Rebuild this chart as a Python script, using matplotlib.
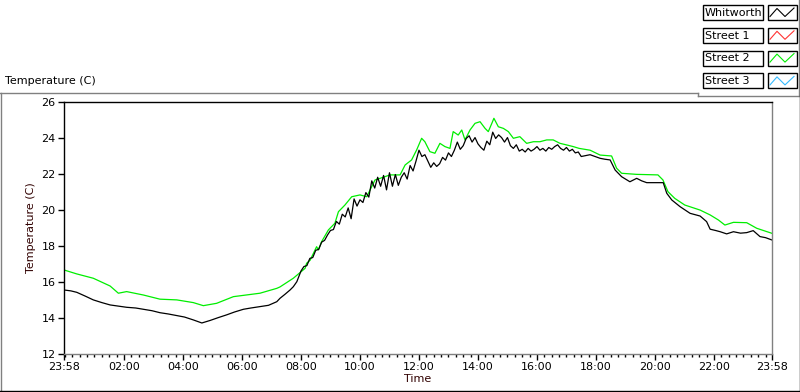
import matplotlib
matplotlib.use("Agg")
import matplotlib.pyplot as plt
from matplotlib.patches import Rectangle

# Series data: hour of day (start at 23:58 previous day) and temperature (C)
WHIT_HOURS = [-0.033, 0.20, 0.40, 0.70, 0.96, 1.25, 1.53, 1.80, 2.09, 2.40, 2.66, 2.95, 3.22, 3.50,
              3.79, 4.05, 4.35, 4.64, 4.92, 5.20, 5.48, 5.75, 6.05, 6.30, 6.61, 6.90, 7.18, 7.29,
              7.45, 7.63, 7.74, 7.86,
              8.0, 8.1, 8.2, 8.3, 8.4, 8.5, 8.6, 8.7, 8.8, 8.9,
              9.0, 9.1, 9.2, 9.3, 9.4, 9.5, 9.6, 9.7, 9.8, 9.9,
              10.0, 10.1, 10.2, 10.3, 10.4, 10.5, 10.6, 10.7, 10.8, 10.9,
              11.0, 11.1, 11.2, 11.3, 11.4, 11.5, 11.6, 11.7, 11.8, 11.9,
              12.0, 12.1, 12.2, 12.3, 12.4, 12.5, 12.6, 12.7, 12.8, 12.9,
              13.0, 13.1, 13.2, 13.3, 13.4, 13.5, 13.6, 13.7, 13.8, 13.9,
              14.0, 14.1, 14.2, 14.3, 14.4, 14.5, 14.6, 14.7, 14.8, 14.9,
              15.0, 15.1, 15.2, 15.3, 15.4, 15.5, 15.6, 15.7, 15.8, 15.9,
              16.0, 16.1, 16.2, 16.3, 16.4, 16.5, 16.6, 16.7, 16.8, 16.9,
              17.0, 17.1, 17.2, 17.3, 17.4, 17.5,
              17.80, 18.14, 18.30, 18.48, 18.65, 18.87, 19.15, 19.38, 19.55, 19.72, 20.00, 20.28,
              20.40, 20.57, 20.85, 21.19, 21.53, 21.75, 21.87, 22.05, 22.21, 22.43, 22.66, 22.90,
              23.11, 23.33, 23.56, 23.75, 23.967]
WHIT_TEMP = [15.55, 15.5, 15.42, 15.2, 15.0, 14.85, 14.72, 14.66, 14.59, 14.55, 14.48, 14.4, 14.29, 14.22,
             14.13, 14.05, 13.89, 13.72, 13.86, 14.02, 14.17, 14.33, 14.48, 14.55, 14.63, 14.7, 14.9, 15.09,
             15.3, 15.55, 15.73, 16.01,
             16.6, 16.85, 16.9, 17.3, 17.35, 17.75, 17.8, 18.2, 18.3, 18.6,
             18.85, 18.9, 19.35, 19.2, 19.75, 19.6, 20.1, 19.5, 20.6, 20.2,
             20.55, 20.4, 20.95, 20.7, 21.6, 21.2, 21.8, 21.3, 21.9, 21.1,
             22.05, 21.3, 21.95, 21.35, 21.8, 22.05, 21.7, 22.45, 22.15, 22.7,
             23.3, 22.95, 23.05, 22.7, 22.35, 22.6, 22.4, 22.55, 22.9, 22.75,
             23.15, 22.95, 23.3, 23.75, 23.35, 23.55, 23.95, 24.1, 23.75, 24.0,
             23.65, 23.45, 23.3, 23.8, 23.6, 24.3, 23.95, 24.15, 24.0, 23.75,
             24.0, 23.55, 23.4, 23.6, 23.25, 23.35, 23.2, 23.4, 23.25, 23.35,
             23.5, 23.3, 23.4, 23.25, 23.45, 23.35, 23.5, 23.6, 23.4, 23.3,
             23.45, 23.25, 23.35, 23.15, 23.2, 22.95,
             23.05, 22.85, 22.8, 22.76, 22.2, 21.83, 21.55, 21.74, 21.6, 21.5, 21.5, 21.5,
             20.91, 20.54, 20.17, 19.8, 19.65, 19.34, 18.92, 18.85, 18.78, 18.66, 18.78, 18.7,
             18.73, 18.84, 18.51, 18.45, 18.32]

ST2_HOURS = [-0.033, 0.40, 0.96, 1.53, 1.81, 2.09, 2.66, 3.22, 3.79, 4.35, 4.69, 5.14, 5.71, 6.61,
             7.18, 7.29, 7.74, 8.14, 8.19, 8.31, 8.53, 8.59, 8.70, 8.93, 9.15, 9.27, 9.49, 9.72,
             10.00, 10.23, 10.34, 10.51, 10.68, 11.02, 11.36, 11.53, 11.75, 11.92, 12.09, 12.20,
             12.37, 12.54, 12.71, 12.88, 13.05, 13.16, 13.33, 13.45, 13.56, 13.73, 13.90, 14.07,
             14.24, 14.35, 14.47, 14.54, 14.69, 14.86, 15.03, 15.20, 15.42, 15.65, 15.88, 16.10,
             16.33, 16.55, 16.78, 17.01, 17.23, 17.43, 17.80, 18.14, 18.53, 18.70, 18.87, 19.38,
             20.10, 20.27, 20.44, 20.67, 21.01, 21.53, 21.87, 22.15, 22.37, 22.66, 23.11, 23.45,
             23.967]
ST2_TEMP = [16.66, 16.44, 16.2, 15.77, 15.37, 15.46, 15.27, 15.04, 15.0, 14.85, 14.68, 14.81, 15.18, 15.37,
            15.64, 15.72, 16.2, 16.75, 17.03, 17.2, 17.95, 17.77, 18.23, 18.88, 19.25, 19.89, 20.26, 20.72,
            20.82, 20.72, 21.09, 21.65, 21.74, 21.93, 21.93, 22.48, 22.76, 23.31, 23.96, 23.77,
            23.22, 23.13, 23.68, 23.5, 23.4, 24.33, 24.14, 24.42, 23.87, 24.42, 24.79, 24.88,
            24.51, 24.33, 24.79, 25.07, 24.6, 24.51, 24.33, 23.96, 24.05, 23.68, 23.77, 23.77,
            23.87, 23.87, 23.68, 23.59, 23.5, 23.4, 23.3, 23.03, 22.98, 22.3, 22.02, 21.96,
            21.93, 21.65, 21.0, 20.63, 20.26, 19.98, 19.71, 19.43, 19.15, 19.3, 19.28, 18.97,
            18.69]

LEGEND_NAMES = ["Whitworth", "Street 1", "Street 2", "Street 3"]
LEGEND_COLORS = ["#000000", "#ff3333", "#00ee00", "#33bbff"]

X_TICKS = [-0.033, 2, 4, 6, 8, 10, 12, 14, 16, 18, 20, 22, 23.967]
X_LABELS = ["23:58", "02:00", "04:00", "06:00", "08:00", "10:00", "12:00",
            "14:00", "16:00", "18:00", "20:00", "22:00", "23:58"]
Y_TICKS = [12, 14, 16, 18, 20, 22, 24, 26]

W, H = 800, 392
FONT = "DejaVu Sans"
FS = 8


def main():
    plt.rcParams['font.family'] = FONT
    fig = plt.figure(figsize=(W / 100, H / 100), dpi=100)

    # overlay in pixel coordinates for frame and legend
    ov = fig.add_axes([0, 0, 1, 1])
    ov.set_xlim(0, W)
    ov.set_ylim(H, 0)
    ov.axis('off')

    gray = "#808080"
    ov.plot([0, 698], [92.5, 92.5], color=gray, lw=1)
    ov.plot([698, 698], [92.5, 95.5], color=gray, lw=1)
    ov.plot([698, 798], [95.5, 95.5], color=gray, lw=1)
    ov.plot([798.5, 798.5], [0, 95.5], color=gray, lw=1)
    ov.plot([0.5, 0.5], [92.5, 391], color=gray, lw=1)
    ov.plot([0, 800], [390.5, 390.5], color="black", lw=1)
    ov.plot([799.5, 799.5], [95.5, 391], color="black", lw=1)
    ov.text(5, 81, "Temperature (C)", fontsize=FS, va='center', ha='left')

    # LabVIEW style legend
    for i, (name, col) in enumerate(zip(LEGEND_NAMES, LEGEND_COLORS)):
        top = 5 + i * 22.8
        ov.add_patch(Rectangle((702.5, top), 60, 15, fill=False, ec="black", lw=1))
        ov.text(705, top + 7.8, name, fontsize=FS, va='center', ha='left')
        ov.add_patch(Rectangle((767.5, top), 29, 15, fill=False, ec="black", lw=1))
        ov.plot([770, 777, 785, 794], [top + 11.5, top + 3.5, top + 11.5, top + 3], color=col, lw=0.8)

    ax = fig.add_axes([64 / W, (H - 354) / H, 708 / W, 252.5 / H])
    ax.plot(ST2_HOURS, ST2_TEMP, color=LEGEND_COLORS[2], lw=0.9)
    ax.plot(WHIT_HOURS, WHIT_TEMP, color=LEGEND_COLORS[0], lw=0.9)

    ax.set_xlim(X_TICKS[0], X_TICKS[-1])
    ax.set_ylim(12, 26)
    ax.set_xticks(X_TICKS)
    ax.set_xticklabels(X_LABELS, fontsize=FS)
    ax.set_xticks([q / 4 for q in range(0, 96)], minor=True)
    ax.set_yticks(Y_TICKS)
    ax.set_yticklabels([str(v) for v in Y_TICKS], fontsize=FS)
    ax.tick_params(axis='x', which='major', direction='out', length=4, width=1, pad=2)
    ax.tick_params(axis='x', which='minor', direction='out', length=2.2, width=1)
    ax.tick_params(axis='y', direction='out', length=4, width=1, pad=2)

    ax.spines['left'].set_color("black")
    ax.spines['top'].set_color("black")
    ax.spines['right'].set_color(gray)
    ax.spines['bottom'].set_color(gray)
    for s in ax.spines.values():
        s.set_linewidth(1.0)

    ax.set_xlabel("Time", fontsize=FS, labelpad=1)
    ax.set_ylabel("Temperature (C)", fontsize=FS, color="#300000", labelpad=4)
    ax.xaxis.label.set_color("#300000")

    fig.savefig("out.png", dpi=100)


if __name__ == "__main__":
    main()
